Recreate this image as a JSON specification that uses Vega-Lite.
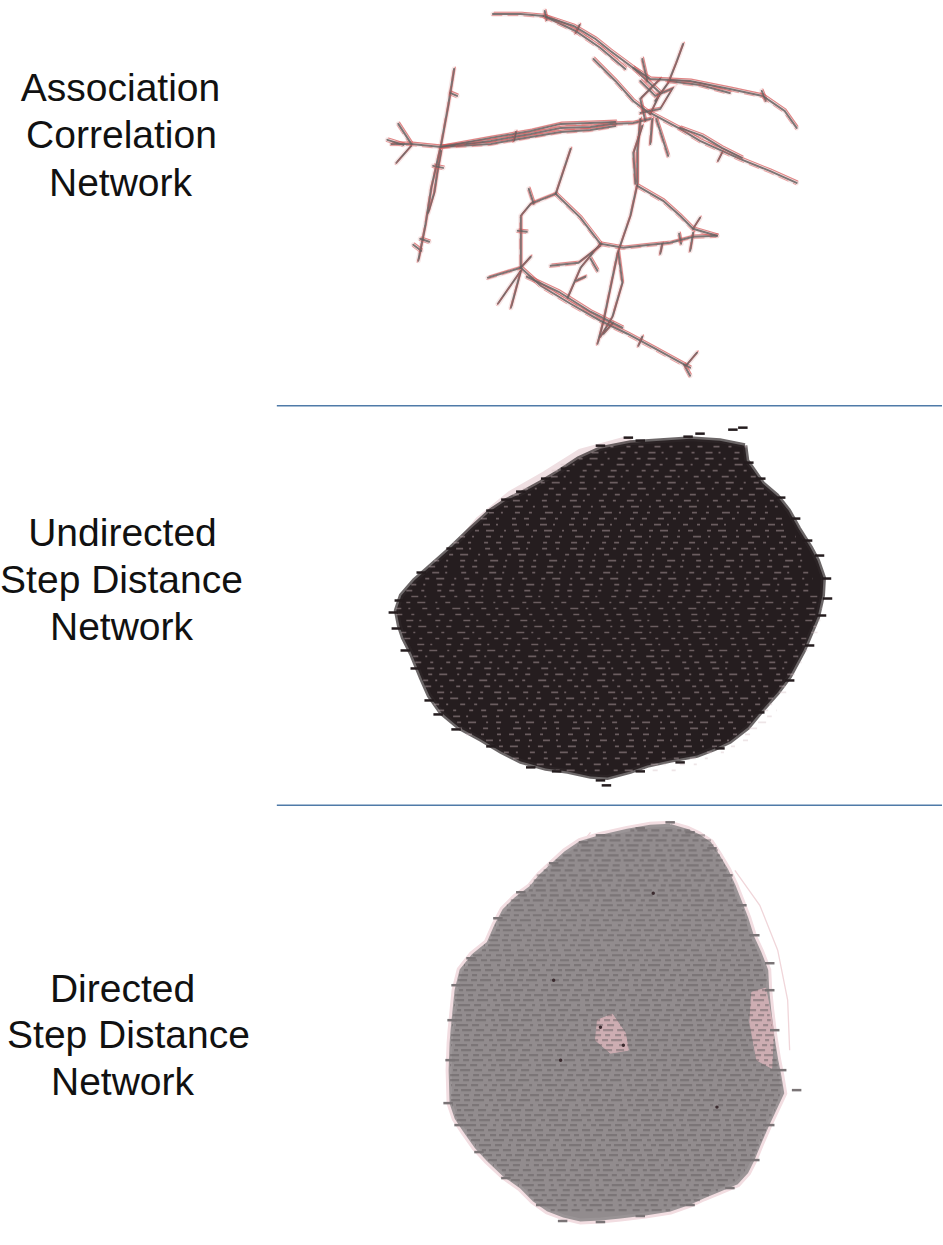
{
  "$schema": "https://vega.github.io/schema/vega-lite/v6.json",
  "width": 943,
  "height": 1245,
  "autosize": {"type": "fit", "contains": "padding"},
  "padding": 0,
  "background": "white",
  "config": {"view": {"stroke": null}},
  "datasets": {
    "labels": [
      {"t": "Association", "x": 118, "y": 100},
      {"t": "Correlation", "x": 119, "y": 147},
      {"t": "Network", "x": 118, "y": 195},
      {"t": "Undirected", "x": 120, "y": 545},
      {"t": "Step Distance", "x": 119, "y": 592},
      {"t": "Network", "x": 119, "y": 640},
      {"t": "Directed", "x": 120, "y": 1002},
      {"t": "Step Distance", "x": 126, "y": 1048},
      {"t": "Network", "x": 120, "y": 1095}
    ],
    "seps": [
      {"x": 275, "x2": 943, "y": 405},
      {"x": 275, "x2": 943, "y": 805}
    ],
    "edges": [
      {"p": "arc", "i": 0, "x": 492, "y": 13}, {"p": "arc", "i": 1, "x": 520, "y": 13}, {"p": "arc", "i": 2, "x": 543, "y": 15}, {"p": "arc", "i": 3, "x": 573, "y": 25}, {"p": "arc", "i": 4, "x": 595, "y": 38}, {"p": "arc", "i": 5, "x": 610, "y": 50}, {"p": "arc", "i": 6, "x": 633, "y": 67}, {"p": "arc", "i": 7, "x": 650, "y": 78}, {"p": "arc", "i": 8, "x": 690, "y": 80}, {"p": "arc", "i": 9, "x": 730, "y": 88}, {"p": "arc", "i": 10, "x": 763, "y": 95}, {"p": "arc", "i": 11, "x": 785, "y": 110}, {"p": "arc", "i": 12, "x": 797, "y": 127},
      {"p": "arcLens", "i": 0, "x": 543, "y": 15}, {"p": "arcLens", "i": 1, "x": 575, "y": 30}, {"p": "arcLens", "i": 2, "x": 600, "y": 47}, {"p": "arcLens", "i": 3, "x": 625, "y": 68},
      {"p": "diag", "i": 0, "x": 593, "y": 58}, {"p": "diag", "i": 1, "x": 615, "y": 80}, {"p": "diag", "i": 2, "x": 633, "y": 100}, {"p": "diag", "i": 3, "x": 650, "y": 113},
      {"p": "spikeUp", "i": 0, "x": 683, "y": 43}, {"p": "spikeUp", "i": 1, "x": 676, "y": 62}, {"p": "spikeUp", "i": 2, "x": 668, "y": 82}, {"p": "spikeUp", "i": 3, "x": 655, "y": 100},
      {"p": "spikeSmall", "i": 0, "x": 642, "y": 58}, {"p": "spikeSmall", "i": 1, "x": 647, "y": 80},
      {"p": "hubA", "i": 0, "x": 633, "y": 67}, {"p": "hubA", "i": 1, "x": 660, "y": 92}, {"p": "hubA", "i": 2, "x": 650, "y": 113},
      {"p": "hubB", "i": 0, "x": 660, "y": 78}, {"p": "hubB", "i": 1, "x": 640, "y": 98}, {"p": "hubB", "i": 2, "x": 645, "y": 120},
      {"p": "hubC", "i": 0, "x": 668, "y": 80}, {"p": "hubC", "i": 1, "x": 700, "y": 84}, {"p": "hubC", "i": 2, "x": 730, "y": 92},
      {"p": "hubD", "i": 0, "x": 640, "y": 80}, {"p": "hubD", "i": 1, "x": 655, "y": 95}, {"p": "hubD", "i": 2, "x": 672, "y": 88}, {"p": "hubD", "i": 3, "x": 660, "y": 108}, {"p": "hubD", "i": 4, "x": 640, "y": 112},
      {"p": "downRight", "i": 0, "x": 650, "y": 112}, {"p": "downRight", "i": 1, "x": 680, "y": 128}, {"p": "downRight", "i": 2, "x": 700, "y": 140}, {"p": "downRight", "i": 3, "x": 740, "y": 158}, {"p": "downRight", "i": 4, "x": 770, "y": 170}, {"p": "downRight", "i": 5, "x": 797, "y": 182},
      {"p": "downRightLens", "i": 0, "x": 680, "y": 127}, {"p": "downRightLens", "i": 1, "x": 702, "y": 135}, {"p": "downRightLens", "i": 2, "x": 722, "y": 147}, {"p": "downRightLens", "i": 3, "x": 742, "y": 157},
      {"p": "horiz", "i": 0, "x": 390, "y": 143}, {"p": "horiz", "i": 1, "x": 410, "y": 143}, {"p": "horiz", "i": 2, "x": 440, "y": 146}, {"p": "horiz", "i": 3, "x": 490, "y": 140}, {"p": "horiz", "i": 4, "x": 530, "y": 133}, {"p": "horiz", "i": 5, "x": 560, "y": 127}, {"p": "horiz", "i": 6, "x": 590, "y": 126}, {"p": "horiz", "i": 7, "x": 610, "y": 123}, {"p": "horiz", "i": 8, "x": 633, "y": 122}, {"p": "horiz", "i": 9, "x": 650, "y": 118},
      {"p": "horizLensA", "i": 0, "x": 440, "y": 146}, {"p": "horizLensA", "i": 1, "x": 490, "y": 137}, {"p": "horizLensA", "i": 2, "x": 530, "y": 130}, {"p": "horizLensA", "i": 3, "x": 560, "y": 123}, {"p": "horizLensA", "i": 4, "x": 590, "y": 122}, {"p": "horizLensA", "i": 5, "x": 615, "y": 121},
      {"p": "horizLensB", "i": 0, "x": 440, "y": 146}, {"p": "horizLensB", "i": 1, "x": 490, "y": 143}, {"p": "horizLensB", "i": 2, "x": 530, "y": 136}, {"p": "horizLensB", "i": 3, "x": 560, "y": 131}, {"p": "horizLensB", "i": 4, "x": 590, "y": 129}, {"p": "horizLensB", "i": 5, "x": 615, "y": 125},
      {"p": "vertLeft", "i": 0, "x": 453, "y": 68}, {"p": "vertLeft", "i": 1, "x": 447, "y": 105}, {"p": "vertLeft", "i": 2, "x": 440, "y": 143}, {"p": "vertLeft", "i": 3, "x": 430, "y": 187}, {"p": "vertLeft", "i": 4, "x": 424, "y": 225}, {"p": "vertLeft", "i": 5, "x": 417, "y": 260},
      {"p": "vertLeftLens", "i": 0, "x": 440, "y": 150}, {"p": "vertLeftLens", "i": 1, "x": 436, "y": 172}, {"p": "vertLeftLens", "i": 2, "x": 433, "y": 192}, {"p": "vertLeftLens", "i": 3, "x": 427, "y": 212},
      {"p": "spokeL1", "i": 0, "x": 397, "y": 123}, {"p": "spokeL1", "i": 1, "x": 410, "y": 143},
      {"p": "spokeL2", "i": 0, "x": 386, "y": 139}, {"p": "spokeL2", "i": 1, "x": 402, "y": 144},
      {"p": "spokeL3", "i": 0, "x": 395, "y": 162}, {"p": "spokeL3", "i": 1, "x": 410, "y": 145},
      {"p": "spokeL4", "i": 0, "x": 412, "y": 244}, {"p": "spokeL4", "i": 1, "x": 420, "y": 250},
      {"p": "vertHub", "i": 0, "x": 640, "y": 118}, {"p": "vertHub", "i": 1, "x": 637, "y": 150}, {"p": "vertHub", "i": 2, "x": 637, "y": 183}, {"p": "vertHub", "i": 3, "x": 630, "y": 215}, {"p": "vertHub", "i": 4, "x": 617, "y": 253}, {"p": "vertHub", "i": 5, "x": 603, "y": 320}, {"p": "vertHub", "i": 6, "x": 597, "y": 343},
      {"p": "vertHubLensA", "i": 0, "x": 642, "y": 125}, {"p": "vertHubLensA", "i": 1, "x": 633, "y": 152}, {"p": "vertHubLensA", "i": 2, "x": 635, "y": 183},
      {"p": "vertHubLensB", "i": 0, "x": 618, "y": 252}, {"p": "vertHubLensB", "i": 1, "x": 622, "y": 282}, {"p": "vertHubLensB", "i": 2, "x": 612, "y": 316}, {"p": "vertHubLensB", "i": 3, "x": 600, "y": 336},
      {"p": "hubSpike1", "i": 0, "x": 650, "y": 143}, {"p": "hubSpike1", "i": 1, "x": 652, "y": 118},
      {"p": "hubSpike2", "i": 0, "x": 668, "y": 155}, {"p": "hubSpike2", "i": 1, "x": 656, "y": 118},
      {"p": "triRight", "i": 0, "x": 637, "y": 185}, {"p": "triRight", "i": 1, "x": 663, "y": 200}, {"p": "triRight", "i": 2, "x": 680, "y": 215}, {"p": "triRight", "i": 3, "x": 693, "y": 228}, {"p": "triRight", "i": 4, "x": 717, "y": 235},
      {"p": "triBottom", "i": 0, "x": 600, "y": 243}, {"p": "triBottom", "i": 1, "x": 623, "y": 247}, {"p": "triBottom", "i": 2, "x": 650, "y": 244}, {"p": "triBottom", "i": 3, "x": 670, "y": 242}, {"p": "triBottom", "i": 4, "x": 693, "y": 236}, {"p": "triBottom", "i": 5, "x": 717, "y": 235},
      {"p": "AC", "i": 0, "x": 555, "y": 193}, {"p": "AC", "i": 1, "x": 580, "y": 217}, {"p": "AC", "i": 2, "x": 600, "y": 243},
      {"p": "spikeA", "i": 0, "x": 570, "y": 148}, {"p": "spikeA", "i": 1, "x": 562, "y": 172}, {"p": "spikeA", "i": 2, "x": 555, "y": 193},
      {"p": "AB", "i": 0, "x": 555, "y": 193}, {"p": "AB", "i": 1, "x": 530, "y": 203}, {"p": "AB", "i": 2, "x": 520, "y": 215}, {"p": "AB", "i": 3, "x": 520, "y": 237}, {"p": "AB", "i": 4, "x": 520, "y": 267},
      {"p": "spikeAB", "i": 0, "x": 528, "y": 188}, {"p": "spikeAB", "i": 1, "x": 533, "y": 203},
      {"p": "spokeB1", "i": 0, "x": 487, "y": 277}, {"p": "spokeB1", "i": 1, "x": 520, "y": 267},
      {"p": "spokeB2", "i": 0, "x": 497, "y": 303}, {"p": "spokeB2", "i": 1, "x": 520, "y": 270},
      {"p": "spokeB3", "i": 0, "x": 510, "y": 307}, {"p": "spokeB3", "i": 1, "x": 520, "y": 270},
      {"p": "spokeB4", "i": 0, "x": 530, "y": 256}, {"p": "spokeB4", "i": 1, "x": 520, "y": 267},
      {"p": "BE", "i": 0, "x": 520, "y": 267}, {"p": "BE", "i": 1, "x": 540, "y": 285}, {"p": "BE", "i": 2, "x": 570, "y": 303}, {"p": "BE", "i": 3, "x": 600, "y": 320}, {"p": "BE", "i": 4, "x": 627, "y": 333}, {"p": "BE", "i": 5, "x": 655, "y": 348}, {"p": "BE", "i": 6, "x": 677, "y": 360}, {"p": "BE", "i": 7, "x": 690, "y": 367},
      {"p": "BElens", "i": 0, "x": 526, "y": 276}, {"p": "BElens", "i": 1, "x": 558, "y": 291}, {"p": "BElens", "i": 2, "x": 590, "y": 311}, {"p": "BElens", "i": 3, "x": 622, "y": 327},
      {"p": "spokeE1", "i": 0, "x": 697, "y": 352}, {"p": "spokeE1", "i": 1, "x": 686, "y": 365},
      {"p": "spokeE2", "i": 0, "x": 690, "y": 375}, {"p": "spokeE2", "i": 1, "x": 684, "y": 364},
      {"p": "Cdl", "i": 0, "x": 600, "y": 243}, {"p": "Cdl", "i": 1, "x": 580, "y": 267}, {"p": "Cdl", "i": 2, "x": 567, "y": 297},
      {"p": "Cleft", "i": 0, "x": 550, "y": 265}, {"p": "Cleft", "i": 1, "x": 578, "y": 262}, {"p": "Cleft", "i": 2, "x": 600, "y": 245},
      {"p": "spikeC", "i": 0, "x": 597, "y": 270}, {"p": "spikeC", "i": 1, "x": 590, "y": 258},
      {"p": "spikeH", "i": 0, "x": 660, "y": 253}, {"p": "spikeH", "i": 1, "x": 662, "y": 243},
      {"p": "spikeD1", "i": 0, "x": 700, "y": 217}, {"p": "spikeD1", "i": 1, "x": 693, "y": 228},
      {"p": "spikeD2", "i": 0, "x": 690, "y": 250}, {"p": "spikeD2", "i": 1, "x": 693, "y": 232},
      {"p": "tk1", "i": 0, "x": 544, "y": 10}, {"p": "tk1", "i": 1, "x": 546, "y": 19},
      {"p": "tk2", "i": 0, "x": 579, "y": 24}, {"p": "tk2", "i": 1, "x": 575, "y": 32},
      {"p": "tk3", "i": 0, "x": 762, "y": 90}, {"p": "tk3", "i": 1, "x": 766, "y": 100},
      {"p": "tk4", "i": 0, "x": 449, "y": 92}, {"p": "tk4", "i": 1, "x": 456, "y": 95},
      {"p": "tk5", "i": 0, "x": 432, "y": 165}, {"p": "tk5", "i": 1, "x": 442, "y": 167},
      {"p": "tk6", "i": 0, "x": 419, "y": 238}, {"p": "tk6", "i": 1, "x": 428, "y": 241},
      {"p": "tk7", "i": 0, "x": 642, "y": 336}, {"p": "tk7", "i": 1, "x": 638, "y": 345},
      {"p": "tk8", "i": 0, "x": 612, "y": 323}, {"p": "tk8", "i": 1, "x": 603, "y": 333},
      {"p": "tk9", "i": 0, "x": 722, "y": 152}, {"p": "tk9", "i": 1, "x": 718, "y": 160},
      {"p": "tk10", "i": 0, "x": 517, "y": 230}, {"p": "tk10", "i": 1, "x": 526, "y": 231},
      {"p": "tk11", "i": 0, "x": 679, "y": 233}, {"p": "tk11", "i": 1, "x": 681, "y": 243},
      {"p": "tk12", "i": 0, "x": 585, "y": 276}, {"p": "tk12", "i": 1, "x": 576, "y": 280},
      {"p": "tk13", "i": 0, "x": 513, "y": 140}, {"p": "tk13", "i": 1, "x": 515, "y": 131}
    ],
    "poly": [
      {"s": "b2", "i": 0, "x": 745, "y": 445}, {"s": "b2", "i": 1, "x": 720, "y": 440}, {"s": "b2", "i": 2, "x": 690, "y": 438}, {"s": "b2", "i": 3, "x": 660, "y": 440}, {"s": "b2", "i": 4, "x": 630, "y": 442}, {"s": "b2", "i": 5, "x": 600, "y": 448}, {"s": "b2", "i": 6, "x": 578, "y": 458}, {"s": "b2", "i": 7, "x": 560, "y": 470}, {"s": "b2", "i": 8, "x": 540, "y": 482}, {"s": "b2", "i": 9, "x": 520, "y": 493}, {"s": "b2", "i": 10, "x": 505, "y": 500}, {"s": "b2", "i": 11, "x": 490, "y": 510}, {"s": "b2", "i": 12, "x": 470, "y": 528}, {"s": "b2", "i": 13, "x": 447, "y": 550}, {"s": "b2", "i": 14, "x": 430, "y": 565}, {"s": "b2", "i": 15, "x": 413, "y": 580}, {"s": "b2", "i": 16, "x": 400, "y": 595}, {"s": "b2", "i": 17, "x": 395, "y": 610}, {"s": "b2", "i": 18, "x": 398, "y": 625}, {"s": "b2", "i": 19, "x": 402, "y": 637}, {"s": "b2", "i": 20, "x": 411, "y": 655}, {"s": "b2", "i": 21, "x": 420, "y": 677}, {"s": "b2", "i": 22, "x": 428, "y": 695}, {"s": "b2", "i": 23, "x": 440, "y": 712}, {"s": "b2", "i": 24, "x": 458, "y": 727}, {"s": "b2", "i": 25, "x": 480, "y": 739}, {"s": "b2", "i": 26, "x": 500, "y": 751}, {"s": "b2", "i": 27, "x": 520, "y": 761}, {"s": "b2", "i": 28, "x": 545, "y": 768}, {"s": "b2", "i": 29, "x": 567, "y": 771}, {"s": "b2", "i": 30, "x": 590, "y": 776}, {"s": "b2", "i": 31, "x": 607, "y": 777}, {"s": "b2", "i": 32, "x": 630, "y": 771}, {"s": "b2", "i": 33, "x": 647, "y": 765}, {"s": "b2", "i": 34, "x": 670, "y": 760}, {"s": "b2", "i": 35, "x": 697, "y": 755}, {"s": "b2", "i": 36, "x": 715, "y": 748}, {"s": "b2", "i": 37, "x": 730, "y": 741}, {"s": "b2", "i": 38, "x": 748, "y": 727}, {"s": "b2", "i": 39, "x": 763, "y": 709}, {"s": "b2", "i": 40, "x": 778, "y": 692}, {"s": "b2", "i": 41, "x": 790, "y": 676}, {"s": "b2", "i": 42, "x": 804, "y": 650}, {"s": "b2", "i": 43, "x": 818, "y": 617}, {"s": "b2", "i": 44, "x": 823, "y": 595}, {"s": "b2", "i": 45, "x": 824, "y": 577}, {"s": "b2", "i": 46, "x": 818, "y": 560}, {"s": "b2", "i": 47, "x": 811, "y": 547}, {"s": "b2", "i": 48, "x": 799, "y": 528}, {"s": "b2", "i": 49, "x": 789, "y": 510}, {"s": "b2", "i": 50, "x": 777, "y": 495}, {"s": "b2", "i": 51, "x": 763, "y": 483}, {"s": "b2", "i": 52, "x": 754, "y": 470}, {"s": "b2", "i": 53, "x": 747, "y": 460}, {"s": "b2", "i": 54, "x": 745, "y": 445},
      {"s": "h2", "i": 0, "x": 455, "y": 548}, {"s": "h2", "i": 1, "x": 478, "y": 520}, {"s": "h2", "i": 2, "x": 510, "y": 494}, {"s": "h2", "i": 3, "x": 545, "y": 474}, {"s": "h2", "i": 4, "x": 580, "y": 452}, {"s": "h2", "i": 5, "x": 625, "y": 440}, {"s": "h2", "i": 6, "x": 645, "y": 452}, {"s": "h2", "i": 7, "x": 600, "y": 470}, {"s": "h2", "i": 8, "x": 560, "y": 492}, {"s": "h2", "i": 9, "x": 520, "y": 515}, {"s": "h2", "i": 10, "x": 490, "y": 540}, {"s": "h2", "i": 11, "x": 470, "y": 560}, {"s": "h2", "i": 12, "x": 455, "y": 548},
      {"s": "b3", "i": 0, "x": 670, "y": 825}, {"s": "b3", "i": 1, "x": 650, "y": 826}, {"s": "b3", "i": 2, "x": 627, "y": 830}, {"s": "b3", "i": 3, "x": 600, "y": 836}, {"s": "b3", "i": 4, "x": 580, "y": 842}, {"s": "b3", "i": 5, "x": 565, "y": 852}, {"s": "b3", "i": 6, "x": 553, "y": 863}, {"s": "b3", "i": 7, "x": 540, "y": 875}, {"s": "b3", "i": 8, "x": 530, "y": 887}, {"s": "b3", "i": 9, "x": 515, "y": 898}, {"s": "b3", "i": 10, "x": 503, "y": 910}, {"s": "b3", "i": 11, "x": 495, "y": 925}, {"s": "b3", "i": 12, "x": 487, "y": 943}, {"s": "b3", "i": 13, "x": 472, "y": 955}, {"s": "b3", "i": 14, "x": 460, "y": 970}, {"s": "b3", "i": 15, "x": 455, "y": 990}, {"s": "b3", "i": 16, "x": 453, "y": 1010}, {"s": "b3", "i": 17, "x": 451, "y": 1030}, {"s": "b3", "i": 18, "x": 450, "y": 1043}, {"s": "b3", "i": 19, "x": 449, "y": 1070}, {"s": "b3", "i": 20, "x": 450, "y": 1103}, {"s": "b3", "i": 21, "x": 455, "y": 1118}, {"s": "b3", "i": 22, "x": 463, "y": 1130}, {"s": "b3", "i": 23, "x": 475, "y": 1147}, {"s": "b3", "i": 24, "x": 487, "y": 1160}, {"s": "b3", "i": 25, "x": 503, "y": 1175}, {"s": "b3", "i": 26, "x": 520, "y": 1187}, {"s": "b3", "i": 27, "x": 533, "y": 1200}, {"s": "b3", "i": 28, "x": 547, "y": 1210}, {"s": "b3", "i": 29, "x": 563, "y": 1216}, {"s": "b3", "i": 30, "x": 580, "y": 1220}, {"s": "b3", "i": 31, "x": 600, "y": 1219}, {"s": "b3", "i": 32, "x": 620, "y": 1217}, {"s": "b3", "i": 33, "x": 645, "y": 1214}, {"s": "b3", "i": 34, "x": 670, "y": 1210}, {"s": "b3", "i": 35, "x": 690, "y": 1203}, {"s": "b3", "i": 36, "x": 703, "y": 1197}, {"s": "b3", "i": 37, "x": 720, "y": 1190}, {"s": "b3", "i": 38, "x": 737, "y": 1183}, {"s": "b3", "i": 39, "x": 747, "y": 1172}, {"s": "b3", "i": 40, "x": 753, "y": 1160}, {"s": "b3", "i": 41, "x": 760, "y": 1143}, {"s": "b3", "i": 42, "x": 767, "y": 1127}, {"s": "b3", "i": 43, "x": 775, "y": 1110}, {"s": "b3", "i": 44, "x": 783, "y": 1093}, {"s": "b3", "i": 45, "x": 780, "y": 1075}, {"s": "b3", "i": 46, "x": 777, "y": 1060}, {"s": "b3", "i": 47, "x": 773, "y": 1035}, {"s": "b3", "i": 48, "x": 770, "y": 1010}, {"s": "b3", "i": 49, "x": 768, "y": 990}, {"s": "b3", "i": 50, "x": 767, "y": 970}, {"s": "b3", "i": 51, "x": 760, "y": 952}, {"s": "b3", "i": 52, "x": 753, "y": 937}, {"s": "b3", "i": 53, "x": 747, "y": 918}, {"s": "b3", "i": 54, "x": 740, "y": 900}, {"s": "b3", "i": 55, "x": 734, "y": 885}, {"s": "b3", "i": 56, "x": 727, "y": 870}, {"s": "b3", "i": 57, "x": 718, "y": 855}, {"s": "b3", "i": 58, "x": 710, "y": 843}, {"s": "b3", "i": 59, "x": 698, "y": 835}, {"s": "b3", "i": 60, "x": 687, "y": 830}, {"s": "b3", "i": 61, "x": 670, "y": 825},
      {"s": "p3a", "i": 0, "x": 597, "y": 1020}, {"s": "p3a", "i": 1, "x": 612, "y": 1014}, {"s": "p3a", "i": 2, "x": 625, "y": 1033}, {"s": "p3a", "i": 3, "x": 628, "y": 1050}, {"s": "p3a", "i": 4, "x": 610, "y": 1053}, {"s": "p3a", "i": 5, "x": 595, "y": 1040}, {"s": "p3a", "i": 6, "x": 597, "y": 1020},
      {"s": "p3b", "i": 0, "x": 752, "y": 992}, {"s": "p3b", "i": 1, "x": 766, "y": 988}, {"s": "p3b", "i": 2, "x": 774, "y": 1030}, {"s": "p3b", "i": 3, "x": 772, "y": 1068}, {"s": "p3b", "i": 4, "x": 757, "y": 1060}, {"s": "p3b", "i": 5, "x": 750, "y": 1022}, {"s": "p3b", "i": 6, "x": 752, "y": 992},
      {"s": "arc3", "i": 0, "x": 735, "y": 870}, {"s": "arc3", "i": 1, "x": 760, "y": 905}, {"s": "arc3", "i": 2, "x": 778, "y": 950}, {"s": "arc3", "i": 3, "x": 788, "y": 1000}, {"s": "arc3", "i": 4, "x": 790, "y": 1050},
      {"s": "arc3b", "i": 0, "x": 578, "y": 860}, {"s": "arc3b", "i": 1, "x": 582, "y": 842}, {"s": "arc3b", "i": 2, "x": 590, "y": 832}
    ],
    "rows2": [
      {"y": 446, "x": 595, "x2": 747}, {"y": 452, "x": 582, "x2": 747}, {"y": 458, "x": 570, "x2": 747}, {"y": 464, "x": 560, "x2": 750}, {"y": 470, "x": 551, "x2": 753}, {"y": 476, "x": 541, "x2": 757}, {"y": 482, "x": 532, "x2": 760}, {"y": 488, "x": 522, "x2": 765}, {"y": 494, "x": 512, "x2": 770}, {"y": 500, "x": 503, "x2": 774}, {"y": 506, "x": 495, "x2": 778}, {"y": 512, "x": 488, "x2": 781}, {"y": 518, "x": 480, "x2": 785}, {"y": 524, "x": 473, "x2": 788}, {"y": 530, "x": 466, "x2": 791}, {"y": 536, "x": 459, "x2": 796}, {"y": 542, "x": 452, "x2": 799}, {"y": 548, "x": 446, "x2": 802}, {"y": 554, "x": 440, "x2": 805}, {"y": 560, "x": 433, "x2": 807}, {"y": 566, "x": 428, "x2": 809}, {"y": 572, "x": 422, "x2": 811}, {"y": 578, "x": 416, "x2": 813}, {"y": 584, "x": 410, "x2": 816}, {"y": 590, "x": 405, "x2": 819}, {"y": 596, "x": 401, "x2": 821}, {"y": 602, "x": 397, "x2": 822}, {"y": 608, "x": 395, "x2": 823}, {"y": 614, "x": 395, "x2": 823}, {"y": 620, "x": 396, "x2": 822}, {"y": 626, "x": 398, "x2": 820}, {"y": 632, "x": 400, "x2": 818}, {"y": 638, "x": 403, "x2": 815}, {"y": 644, "x": 407, "x2": 813}, {"y": 650, "x": 409, "x2": 808}, {"y": 656, "x": 412, "x2": 805}, {"y": 662, "x": 414, "x2": 802}, {"y": 668, "x": 417, "x2": 798}, {"y": 674, "x": 419, "x2": 795}, {"y": 680, "x": 422, "x2": 792}, {"y": 686, "x": 424, "x2": 789}, {"y": 692, "x": 427, "x2": 787}, {"y": 698, "x": 430, "x2": 784}, {"y": 704, "x": 433, "x2": 780}, {"y": 710, "x": 437, "x2": 777}, {"y": 716, "x": 443, "x2": 772}, {"y": 722, "x": 448, "x2": 767}, {"y": 728, "x": 456, "x2": 762}, {"y": 734, "x": 465, "x2": 757}, {"y": 740, "x": 476, "x2": 750}, {"y": 746, "x": 490, "x2": 738}, {"y": 752, "x": 503, "x2": 725}, {"y": 758, "x": 512, "x2": 714}, {"y": 764, "x": 527, "x2": 700}, {"y": 770, "x": 547, "x2": 680}
    ],
    "rows3": [
      {"y": 830, "x": 627, "x2": 690}, {"y": 835, "x": 602, "x2": 705}, {"y": 840, "x": 587, "x2": 711}, {"y": 845, "x": 577, "x2": 715}, {"y": 850, "x": 570, "x2": 718}, {"y": 855, "x": 562, "x2": 720}, {"y": 860, "x": 555, "x2": 723}, {"y": 865, "x": 547, "x2": 725}, {"y": 870, "x": 540, "x2": 727}, {"y": 875, "x": 536, "x2": 730}, {"y": 880, "x": 533, "x2": 732}, {"y": 885, "x": 529, "x2": 734}, {"y": 890, "x": 525, "x2": 736}, {"y": 895, "x": 517, "x2": 738}, {"y": 900, "x": 510, "x2": 740}, {"y": 905, "x": 506, "x2": 742}, {"y": 910, "x": 503, "x2": 744}, {"y": 915, "x": 500, "x2": 746}, {"y": 920, "x": 497, "x2": 748}, {"y": 925, "x": 494, "x2": 749}, {"y": 930, "x": 492, "x2": 751}, {"y": 935, "x": 490, "x2": 752}, {"y": 940, "x": 488, "x2": 754}, {"y": 945, "x": 483, "x2": 755}, {"y": 950, "x": 478, "x2": 757}, {"y": 955, "x": 472, "x2": 759}, {"y": 960, "x": 467, "x2": 761}, {"y": 965, "x": 463, "x2": 763}, {"y": 970, "x": 460, "x2": 765}, {"y": 975, "x": 458, "x2": 766}, {"y": 980, "x": 457, "x2": 767}, {"y": 985, "x": 456, "x2": 767}, {"y": 990, "x": 455, "x2": 768}, {"y": 995, "x": 454, "x2": 768}, {"y": 1000, "x": 454, "x2": 769}, {"y": 1005, "x": 453, "x2": 769}, {"y": 1010, "x": 453, "x2": 770}, {"y": 1015, "x": 452, "x2": 770}, {"y": 1020, "x": 452, "x2": 771}, {"y": 1025, "x": 451, "x2": 772}, {"y": 1030, "x": 451, "x2": 773}, {"y": 1035, "x": 450, "x2": 774}, {"y": 1040, "x": 450, "x2": 775}, {"y": 1045, "x": 450, "x2": 775}, {"y": 1050, "x": 450, "x2": 776}, {"y": 1055, "x": 449, "x2": 776}, {"y": 1060, "x": 449, "x2": 777}, {"y": 1065, "x": 449, "x2": 778}, {"y": 1070, "x": 449, "x2": 779}, {"y": 1075, "x": 449, "x2": 780}, {"y": 1080, "x": 449, "x2": 781}, {"y": 1085, "x": 450, "x2": 782}, {"y": 1090, "x": 450, "x2": 782}, {"y": 1095, "x": 450, "x2": 780}, {"y": 1100, "x": 450, "x2": 778}, {"y": 1105, "x": 451, "x2": 776}, {"y": 1110, "x": 453, "x2": 775}, {"y": 1115, "x": 454, "x2": 772}, {"y": 1120, "x": 456, "x2": 770}, {"y": 1125, "x": 459, "x2": 768}, {"y": 1130, "x": 463, "x2": 767}, {"y": 1135, "x": 466, "x2": 764}, {"y": 1140, "x": 470, "x2": 762}, {"y": 1145, "x": 474, "x2": 759}, {"y": 1150, "x": 478, "x2": 757}, {"y": 1155, "x": 482, "x2": 755}, {"y": 1160, "x": 487, "x2": 753}, {"y": 1165, "x": 492, "x2": 749}, {"y": 1170, "x": 498, "x2": 745}, {"y": 1175, "x": 504, "x2": 740}, {"y": 1180, "x": 510, "x2": 735}, {"y": 1185, "x": 517, "x2": 727}, {"y": 1190, "x": 524, "x2": 718}, {"y": 1195, "x": 528, "x2": 709}, {"y": 1200, "x": 533, "x2": 700}, {"y": 1205, "x": 540, "x2": 685}, {"y": 1210, "x": 547, "x2": 670}
    ],
    "dash2": [
      {"x": 743, "y": 427}, {"x": 733, "y": 429}, {"x": 700, "y": 433}, {"x": 688, "y": 436}, {"x": 640, "y": 440}, {"x": 628, "y": 437}, {"x": 600, "y": 445}, {"x": 565, "y": 468}, {"x": 545, "y": 478}, {"x": 520, "y": 491}, {"x": 505, "y": 499}, {"x": 490, "y": 510}, {"x": 450, "y": 548}, {"x": 420, "y": 572}, {"x": 398, "y": 600}, {"x": 392, "y": 612}, {"x": 395, "y": 628}, {"x": 404, "y": 650}, {"x": 414, "y": 668}, {"x": 428, "y": 700}, {"x": 437, "y": 714}, {"x": 455, "y": 729}, {"x": 490, "y": 746}, {"x": 530, "y": 767}, {"x": 556, "y": 771}, {"x": 600, "y": 780}, {"x": 606, "y": 785}, {"x": 640, "y": 771}, {"x": 680, "y": 762}, {"x": 720, "y": 748}, {"x": 760, "y": 712}, {"x": 790, "y": 680}, {"x": 810, "y": 645}, {"x": 822, "y": 615}, {"x": 828, "y": 598}, {"x": 827, "y": 578}, {"x": 820, "y": 555}, {"x": 808, "y": 540}, {"x": 796, "y": 518}, {"x": 781, "y": 497}, {"x": 761, "y": 478}, {"x": 749, "y": 462}
    ],
    "dash3": [
      {"x": 670, "y": 822}, {"x": 640, "y": 828}, {"x": 600, "y": 835}, {"x": 583, "y": 842}, {"x": 553, "y": 863}, {"x": 520, "y": 892}, {"x": 497, "y": 918}, {"x": 470, "y": 958}, {"x": 455, "y": 985}, {"x": 451, "y": 1020}, {"x": 449, "y": 1060}, {"x": 447, "y": 1103}, {"x": 458, "y": 1125}, {"x": 478, "y": 1152}, {"x": 505, "y": 1178}, {"x": 540, "y": 1205}, {"x": 562, "y": 1221}, {"x": 600, "y": 1222}, {"x": 640, "y": 1216}, {"x": 690, "y": 1205}, {"x": 730, "y": 1188}, {"x": 755, "y": 1160}, {"x": 770, "y": 1125}, {"x": 797, "y": 1090}, {"x": 782, "y": 1070}, {"x": 775, "y": 1030}, {"x": 770, "y": 990}, {"x": 770, "y": 963}, {"x": 755, "y": 935}, {"x": 742, "y": 905}, {"x": 728, "y": 875}, {"x": 712, "y": 848}, {"x": 690, "y": 832}
    ],
    "dots3": [
      {"x": 653, "y": 893}, {"x": 600, "y": 1027}, {"x": 623, "y": 1045}, {"x": 553, "y": 980}, {"x": 717, "y": 1107}, {"x": 560, "y": 1060}
    ]
  },
  "layer": [
    {
      "data": {"name": "labels"},
      "mark": {"type": "text", "font": "Liberation Sans", "fontSize": 39, "align": "center", "baseline": "alphabetic", "color": "#111111"},
      "encoding": {
        "x": {"field": "x", "type": "quantitative", "scale": {"domain": [0, 943], "nice": false, "zero": false}, "axis": null},
        "y": {"field": "y", "type": "quantitative", "scale": {"domain": [0, 1245], "nice": false, "zero": false, "reverse": true}, "axis": null},
        "text": {"field": "t"}
      }
    },
    {
      "data": {"name": "seps"},
      "mark": {"type": "rule", "color": "#4f7aa8", "strokeWidth": 1.5},
      "encoding": {
        "x": {"field": "x", "type": "quantitative"},
        "x2": {"field": "x2"},
        "y": {"field": "y", "type": "quantitative"}
      }
    },
    {
      "data": {"name": "edges"},
      "mark": {"type": "line", "color": "#e7b0b0", "strokeWidth": 5, "strokeCap": "round", "opacity": 0.3},
      "encoding": {
        "x": {"field": "x", "type": "quantitative"},
        "y": {"field": "y", "type": "quantitative"},
        "detail": {"field": "p"},
        "order": {"field": "i"}
      }
    },
    {
      "data": {"name": "edges"},
      "mark": {"type": "line", "color": "#d65a5a", "strokeWidth": 1.1, "strokeCap": "round", "opacity": 0.7, "yOffset": -1.8, "xOffset": 1.2},
      "encoding": {
        "x": {"field": "x", "type": "quantitative"},
        "y": {"field": "y", "type": "quantitative"},
        "detail": {"field": "p"},
        "order": {"field": "i"}
      }
    },
    {
      "data": {"name": "edges"},
      "mark": {"type": "line", "color": "#676060", "strokeWidth": 2, "strokeCap": "round", "opacity": 0.85},
      "encoding": {
        "x": {"field": "x", "type": "quantitative"},
        "y": {"field": "y", "type": "quantitative"},
        "detail": {"field": "p"},
        "order": {"field": "i"}
      }
    },
    {
      "data": {"name": "edges"},
      "mark": {"type": "line", "color": "#d65a5a", "strokeWidth": 0.9, "strokeCap": "round", "opacity": 0.55, "yOffset": 1.6, "xOffset": -1, "strokeDash": [10, 6]},
      "encoding": {
        "x": {"field": "x", "type": "quantitative"},
        "y": {"field": "y", "type": "quantitative"},
        "detail": {"field": "p"},
        "order": {"field": "i"}
      }
    },
    {
      "data": {"name": "poly"},
      "transform": [{"filter": "datum.s == 'h2'"}],
      "mark": {"type": "line", "fill": "#efdfe2", "stroke": "#efdfe2", "strokeWidth": 8},
      "encoding": {
        "x": {"field": "x", "type": "quantitative"},
        "y": {"field": "y", "type": "quantitative"},
        "detail": {"field": "s"},
        "order": {"field": "i"}
      }
    },
    {
      "data": {"name": "poly"},
      "transform": [{"filter": "datum.s == 'b2'"}],
      "mark": {"type": "line", "fill": "#251d1f", "stroke": "#2e2628", "strokeWidth": 5, "strokeOpacity": 0.7},
      "encoding": {
        "x": {"field": "x", "type": "quantitative"},
        "y": {"field": "y", "type": "quantitative"},
        "detail": {"field": "s"},
        "order": {"field": "i"}
      }
    },
    {
      "data": {"name": "rows2"},
      "transform": [{"filter": "datum.y % 24 == 14"}],
      "mark": {"type": "rule", "color": "#d4bfc3", "strokeWidth": 1.7, "strokeDash": [6, 9, 3, 13, 4, 8, 5, 11], "opacity": 0.4},
      "encoding": {
        "x": {"field": "x", "type": "quantitative"},
        "x2": {"field": "x2"},
        "y": {"field": "y", "type": "quantitative"}
      }
    },
    {
      "data": {"name": "rows2"},
      "transform": [{"filter": "datum.y % 24 == 20"}],
      "mark": {"type": "rule", "color": "#d4bfc3", "strokeWidth": 1.7, "strokeDash": [3, 11, 7, 6, 2, 14, 5, 9], "strokeDashOffset": 5, "opacity": 0.4},
      "encoding": {
        "x": {"field": "x", "type": "quantitative"},
        "x2": {"field": "x2"},
        "y": {"field": "y", "type": "quantitative"}
      }
    },
    {
      "data": {"name": "rows2"},
      "transform": [{"filter": "datum.y % 24 == 2"}],
      "mark": {"type": "rule", "color": "#d4bfc3", "strokeWidth": 1.7, "strokeDash": [5, 14, 4, 7, 8, 10, 2, 8], "strokeDashOffset": 11, "opacity": 0.4},
      "encoding": {
        "x": {"field": "x", "type": "quantitative"},
        "x2": {"field": "x2"},
        "y": {"field": "y", "type": "quantitative"}
      }
    },
    {
      "data": {"name": "rows2"},
      "transform": [{"filter": "datum.y % 24 == 8"}],
      "mark": {"type": "rule", "color": "#d4bfc3", "strokeWidth": 1.7, "strokeDash": [8, 7, 2, 12, 5, 9, 3, 13], "strokeDashOffset": 3, "opacity": 0.4},
      "encoding": {
        "x": {"field": "x", "type": "quantitative"},
        "x2": {"field": "x2"},
        "y": {"field": "y", "type": "quantitative"}
      }
    },
    {
      "data": {"name": "dash2"},
      "mark": {"type": "point", "shape": "stroke", "size": 90, "strokeWidth": 2.5, "color": "#241c1e", "opacity": 1},
      "encoding": {
        "x": {"field": "x", "type": "quantitative"},
        "y": {"field": "y", "type": "quantitative"}
      }
    },
    {
      "data": {"name": "poly"},
      "transform": [{"filter": "datum.s == 'arc3' || datum.s == 'arc3b'"}],
      "mark": {"type": "line", "color": "#f0d6da", "strokeWidth": 1.3},
      "encoding": {
        "x": {"field": "x", "type": "quantitative"},
        "y": {"field": "y", "type": "quantitative"},
        "detail": {"field": "s"},
        "order": {"field": "i"}
      }
    },
    {
      "data": {"name": "poly"},
      "transform": [{"filter": "datum.s == 'b3'"}],
      "mark": {"type": "line", "fill": "#f4e3e6", "stroke": "#f2dde1", "strokeWidth": 9},
      "encoding": {
        "x": {"field": "x", "type": "quantitative"},
        "y": {"field": "y", "type": "quantitative"},
        "detail": {"field": "s"},
        "order": {"field": "i"}
      }
    },
    {
      "data": {"name": "poly"},
      "transform": [{"filter": "datum.s == 'b3'"}],
      "mark": {"type": "line", "fill": "#928c8e", "stroke": "#9a9496", "strokeWidth": 3},
      "encoding": {
        "x": {"field": "x", "type": "quantitative"},
        "y": {"field": "y", "type": "quantitative"},
        "detail": {"field": "s"},
        "order": {"field": "i"}
      }
    },
    {
      "data": {"name": "poly"},
      "transform": [{"filter": "datum.s == 'p3a' || datum.s == 'p3b'"}],
      "mark": {"type": "line", "fill": "#d8b3b9", "stroke": "#d8b3b9", "strokeWidth": 1, "opacity": 0.85},
      "encoding": {
        "x": {"field": "x", "type": "quantitative"},
        "y": {"field": "y", "type": "quantitative"},
        "detail": {"field": "s"},
        "order": {"field": "i"}
      }
    },
    {
      "data": {"name": "rows3"},
      "transform": [{"filter": "datum.y % 20 == 0"}],
      "mark": {"type": "rule", "color": "#5f595b", "strokeWidth": 2.2, "strokeDash": [9, 4, 6, 3, 11, 5, 4, 4], "opacity": 0.45},
      "encoding": {
        "x": {"field": "x", "type": "quantitative"},
        "x2": {"field": "x2"},
        "y": {"field": "y", "type": "quantitative"}
      }
    },
    {
      "data": {"name": "rows3"},
      "transform": [{"filter": "datum.y % 20 == 5"}],
      "mark": {"type": "rule", "color": "#5f595b", "strokeWidth": 2.2, "strokeDash": [5, 3, 12, 4, 7, 6, 3, 5], "strokeDashOffset": 4, "opacity": 0.45},
      "encoding": {
        "x": {"field": "x", "type": "quantitative"},
        "x2": {"field": "x2"},
        "y": {"field": "y", "type": "quantitative"}
      }
    },
    {
      "data": {"name": "rows3"},
      "transform": [{"filter": "datum.y % 20 == 10"}],
      "mark": {"type": "rule", "color": "#5f595b", "strokeWidth": 2.2, "strokeDash": [7, 5, 4, 3, 10, 4, 8, 6], "strokeDashOffset": 9, "opacity": 0.45},
      "encoding": {
        "x": {"field": "x", "type": "quantitative"},
        "x2": {"field": "x2"},
        "y": {"field": "y", "type": "quantitative"}
      }
    },
    {
      "data": {"name": "rows3"},
      "transform": [{"filter": "datum.y % 20 == 15"}],
      "mark": {"type": "rule", "color": "#5f595b", "strokeWidth": 2.2, "strokeDash": [11, 4, 5, 5, 6, 3, 9, 4], "strokeDashOffset": 2, "opacity": 0.45},
      "encoding": {
        "x": {"field": "x", "type": "quantitative"},
        "x2": {"field": "x2"},
        "y": {"field": "y", "type": "quantitative"}
      }
    },
    {
      "data": {"name": "dash3"},
      "mark": {"type": "point", "shape": "stroke", "size": 90, "strokeWidth": 2.5, "color": "#7a7476", "opacity": 1},
      "encoding": {
        "x": {"field": "x", "type": "quantitative"},
        "y": {"field": "y", "type": "quantitative"}
      }
    },
    {
      "data": {"name": "dots3"},
      "mark": {"type": "point", "shape": "circle", "size": 12, "filled": true, "color": "#3a2a2e", "opacity": 1},
      "encoding": {
        "x": {"field": "x", "type": "quantitative"},
        "y": {"field": "y", "type": "quantitative"}
      }
    }
  ]
}
